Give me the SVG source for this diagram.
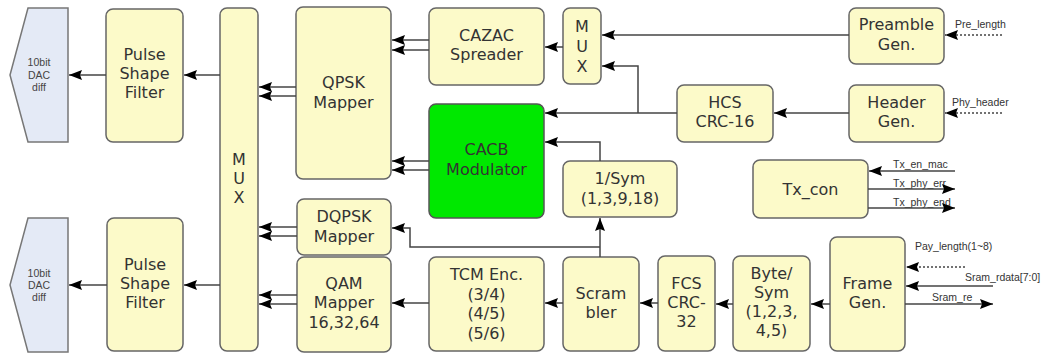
<svg xmlns="http://www.w3.org/2000/svg" width="1051" height="354" viewBox="0 0 1051 354">
<style>
.b{fill:#fcfac9;stroke:#666;stroke-width:1.5}
.g{fill:#00e800;stroke:#555;stroke-width:1.5}
.d{fill:#e4eaf6;stroke:#777;stroke-width:1.5}
.t{font-family:"DejaVu Sans",Verdana,sans-serif;font-size:16px;fill:#333;text-anchor:middle}
.s{font-family:"Liberation Sans",Arial,sans-serif;font-size:10.5px;fill:#333}
.sd{font-family:"Liberation Sans",Arial,sans-serif;font-size:10.5px;fill:#444;text-anchor:middle}
.a{fill:none;stroke:#444;stroke-width:1.5;marker-end:url(#ah)}
.da{fill:none;stroke:#444;stroke-width:1.5;stroke-dasharray:2 2;marker-end:url(#ah)}
</style>
<defs>
<marker id="ah" markerUnits="userSpaceOnUse" markerWidth="13" markerHeight="10" refX="13" refY="5" orient="auto">
<path d="M0,0 L13,5 L0,10 L2,5 z" fill="#000"/>
</marker>
</defs>
<rect width="1051" height="354" fill="#fff"/>

<g id="dac1"><polygon class="d" points="28,8 68,8 68,142 28,142 10,75"/>
<text class="sd" x="39" y="66">10bit</text><text class="sd" x="39" y="79">DAC</text><text class="sd" x="39" y="91">diff</text></g>
<g id="dac2"><polygon class="d" points="28,218 68,218 68,352 28,352 10,285"/>
<text class="sd" x="39" y="277">10bit</text><text class="sd" x="39" y="289">DAC</text><text class="sd" x="39" y="301">diff</text></g>

<g id="psf1"><rect class="b" x="106" y="9" width="77" height="133" rx="7"/>
<text class="t" x="144.5" y="60">Pulse</text><text class="t" x="144.5" y="79">Shape</text><text class="t" x="144.5" y="98">Filter</text></g>
<g id="psf2"><rect class="b" x="107" y="218" width="76" height="133" rx="7"/>
<text class="t" x="145" y="270">Pulse</text><text class="t" x="145" y="289">Shape</text><text class="t" x="145" y="308">Filter</text></g>

<g id="mux"><rect class="b" x="220" y="8" width="38" height="343" rx="7"/>
<text class="t" x="239" y="165">M</text><text class="t" x="239" y="184">U</text><text class="t" x="239" y="203">X</text></g>

<g id="qpsk"><rect class="b" x="296" y="7" width="95" height="172" rx="7"/>
<text class="t" x="343.5" y="88">QPSK</text><text class="t" x="343.5" y="108">Mapper</text></g>
<g id="dqpsk"><rect class="b" x="297" y="199" width="94" height="56" rx="7"/>
<text class="t" x="344" y="222">DQPSK</text><text class="t" x="344" y="242">Mapper</text></g>
<g id="qam"><rect class="b" x="297" y="257" width="94" height="95" rx="7"/>
<text class="t" x="344" y="289">QAM</text><text class="t" x="344" y="308">Mapper</text><text class="t" x="344" y="328">16,32,64</text></g>

<g id="cazac"><rect class="b" x="429" y="8" width="115" height="77" rx="7"/>
<text class="t" x="486.5" y="41">CAZAC</text><text class="t" x="486.5" y="60">Spreader</text></g>
<g id="cacb"><rect class="g" x="429" y="104" width="115" height="114" rx="7"/>
<text class="t" x="486.5" y="155">CACB</text><text class="t" x="486.5" y="175">Modulator</text></g>
<g id="tcm"><rect class="b" x="429" y="257" width="115" height="94" rx="7"/>
<text class="t" x="486.5" y="280">TCM Enc.</text><text class="t" x="486.5" y="299.5">(3/4)</text><text class="t" x="486.5" y="319">(4/5)</text><text class="t" x="486.5" y="338.5">(5/6)</text></g>

<g id="mux2"><rect class="b" x="563" y="8" width="38" height="76" rx="7"/>
<text class="t" x="582" y="32">M</text><text class="t" x="582" y="52">U</text><text class="t" x="582" y="72">X</text></g>
<g id="sym"><rect class="b" x="563" y="161" width="114" height="56" rx="7"/>
<text class="t" x="620" y="184">1/Sym</text><text class="t" x="620" y="204">(1,3,9,18)</text></g>
<g id="scr"><rect class="b" x="563" y="257" width="76" height="94" rx="7"/>
<text class="t" x="601" y="299">Scram</text><text class="t" x="601" y="318">bler</text></g>

<g id="fcs"><rect class="b" x="658" y="256" width="57" height="95" rx="7"/>
<text class="t" x="686.5" y="289">FCS</text><text class="t" x="686.5" y="308">CRC-</text><text class="t" x="686.5" y="327">32</text></g>
<g id="byte"><rect class="b" x="733" y="256" width="77" height="95" rx="7"/>
<text class="t" x="771.5" y="279">Byte/</text><text class="t" x="771.5" y="298">Sym</text><text class="t" x="771.5" y="317">(1,2,3,</text><text class="t" x="771.5" y="336">4,5)</text></g>
<g id="frame"><rect class="b" x="830" y="237" width="75" height="114" rx="7"/>
<text class="t" x="867.5" y="289">Frame</text><text class="t" x="867.5" y="308">Gen.</text></g>

<g id="hcs"><rect class="b" x="677" y="85" width="96" height="57" rx="7"/>
<text class="t" x="725" y="108">HCS</text><text class="t" x="725" y="127">CRC-16</text></g>
<g id="txcon"><rect class="b" x="753" y="160" width="115" height="58" rx="7"/>
<text class="t" x="810.5" y="195">Tx_con</text></g>
<g id="pre"><rect class="b" x="849" y="8" width="95" height="56" rx="7"/>
<text class="t" x="896.5" y="30">Preamble</text><text class="t" x="896.5" y="50">Gen.</text></g>
<g id="hdr"><rect class="b" x="849" y="85" width="95" height="57" rx="7"/>
<text class="t" x="896.5" y="108">Header</text><text class="t" x="896.5" y="127">Gen.</text></g>

<g id="labels">
<text class="s" x="955" y="28">Pre_length</text>
<text class="s" x="952" y="106">Phy_header</text>
<text class="s" x="893" y="168">Tx_en_mac</text>
<text class="s" x="893" y="187">Tx_phy_err</text>
<text class="s" x="893" y="206">Tx_phy_end</text>
<text class="s" x="915" y="250">Pay_length(1~8)</text>
<text class="s" x="965" y="281">Sram_rdata[7:0]</text>
<text class="s" x="932" y="301">Sram_re</text>
</g>

<g id="connectors">
<path class="a" d="M106,75 H69"/>
<path class="a" d="M220,75 H184"/>
<path class="a" d="M107,285 H69"/>
<path class="a" d="M220,285 H184"/>
<path class="a" d="M296,87 H259"/>
<path class="a" d="M296,96 H259"/>
<path class="a" d="M297,227 H259"/>
<path class="a" d="M297,236 H259"/>
<path class="a" d="M297,295 H259"/>
<path class="a" d="M297,304 H259"/>
<path class="a" d="M429,40 H392"/>
<path class="a" d="M429,50 H392"/>
<path class="a" d="M429,161 H392"/>
<path class="a" d="M429,170 H392"/>
<path class="a" d="M563,47 H545"/>
<path class="a" d="M849,35 H602"/>
<path class="a" d="M677,113 H545"/>
<path class="a" d="M638,113 V66 H602"/>
<path class="a" d="M849,113 H774"/>
<path class="a" d="M600,161 V142 H545"/>
<path class="a" d="M600,257 V218"/>
<path class="a" d="M600,247 H410 V228 H392"/>
<path class="a" d="M429,303 H392"/>
<path class="a" d="M563,303 H545"/>
<path class="a" d="M658,303 H640"/>
<path class="a" d="M733,304 H716"/>
<path class="a" d="M830,304 H811"/>
<path class="da" d="M1002,35 H945"/>
<path class="da" d="M1002,113 H945"/>
<path class="a" d="M955,171 H869"/>
<path class="a" d="M868,189 H955"/>
<path class="a" d="M868,208 H955"/>
<path class="da" d="M965,267 H906"/>
<path class="a" d="M993,286 H906"/>
<path class="a" d="M905,304 H993"/>
</g>
</svg>
